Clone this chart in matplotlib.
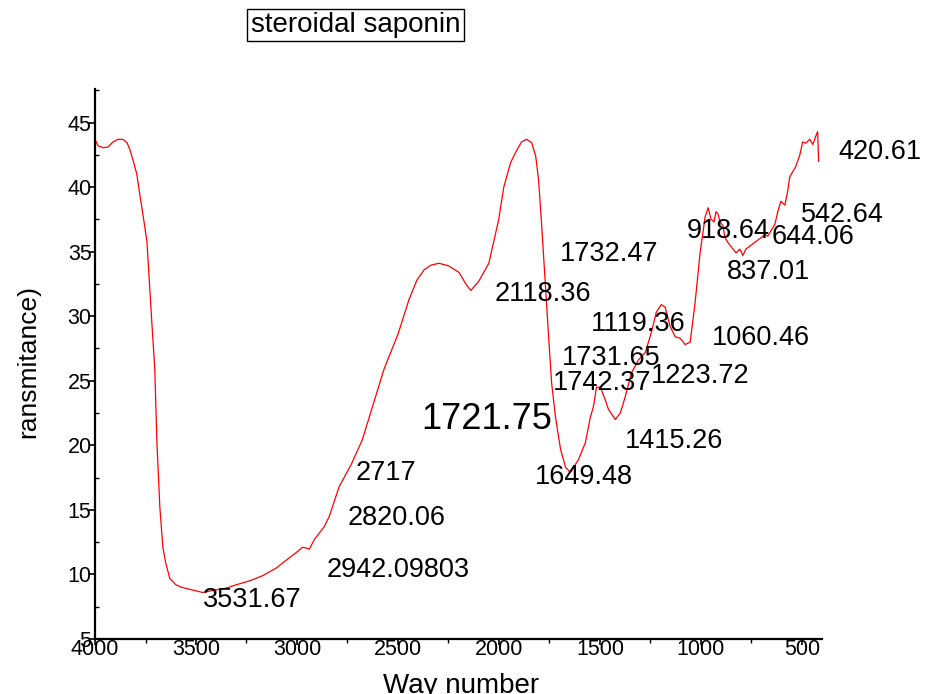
import numpy as np
import matplotlib
matplotlib.use('Agg')
from matplotlib import pyplot as plt
from matplotlib.ticker import MultipleLocator

plt.rcParams['font.family'] = ['Liberation Sans', 'DejaVu Sans']

# spectrum (wavenumber, transmittance)
wavenumber = [4000, 3985, 3960, 3936, 3911, 3886, 3862, 3842, 3827, 3812,
              3793, 3778, 3763, 3743, 3733, 3719, 3704, 3694, 3679, 3664,
              3650, 3630, 3600, 3571, 3520, 3467, 3418, 3348, 3300, 3235,
              3170, 3102, 3037, 3003, 2973, 2955, 2939, 2914, 2865, 2840,
              2791, 2732, 2677, 2620, 2569, 2500, 2445, 2406, 2370, 2337,
              2297, 2250, 2198, 2160, 2139, 2100, 2050, 2001, 1976, 1942,
              1917, 1888, 1863, 1838, 1818, 1804, 1789, 1769, 1754, 1739,
              1720, 1695, 1670, 1646, 1606, 1572, 1547, 1532, 1517, 1498,
              1473, 1458, 1424, 1399, 1374, 1344, 1310, 1275, 1246, 1221,
              1196, 1177, 1152, 1127, 1103, 1078, 1053, 1029, 1004, 979,
              964, 950, 935, 925, 915, 905, 891, 881, 866, 841,
              826, 807, 792, 777, 752, 718, 683, 668, 654, 634,
              619, 604, 584, 570, 560, 545, 530, 510, 496, 481,
              461, 446, 432, 422, 417]
transmittance = [43.7, 43.2, 43.05, 43.1, 43.5, 43.7, 43.7, 43.45, 42.9, 42.1,
                 41.0, 39.4, 37.9, 35.8, 33.2, 29.6, 25.9, 20.4, 15.2, 12.1,
                 10.9, 9.7, 9.2, 9.0, 8.8, 8.6, 8.75, 8.95, 9.2, 9.5,
                 9.9, 10.5, 11.3, 11.7, 12.1, 12.05, 11.95, 12.7, 13.7, 14.5,
                 16.8, 18.5, 20.4, 23.3, 25.9, 28.6, 31.3, 32.8, 33.6, 33.95,
                 34.1, 33.9, 33.4, 32.4, 32.0, 32.7, 34.1, 37.5, 40.0, 41.9,
                 42.7, 43.5, 43.7, 43.45, 42.4, 40.6, 37.2, 32.1, 28.4, 24.8,
                 22.2, 19.7, 18.3, 17.9, 18.9, 20.2, 22.2, 23.0, 24.5, 24.5,
                 23.5, 22.8, 22.0, 22.5, 23.8, 25.6, 26.6, 27.2, 28.7, 30.3,
                 30.9, 30.7, 29.2, 28.4, 28.3, 27.8, 28.0, 31.0, 34.9, 37.7,
                 38.4, 37.5, 37.3, 38.1, 37.9, 37.3, 37.0, 36.1, 35.7, 35.2,
                 34.9, 35.2, 34.7, 35.2, 35.5, 35.9, 36.3, 36.2, 36.6, 37.1,
                 38.1, 38.9, 38.6, 39.7, 40.8, 41.2, 41.6, 42.5, 43.5, 43.4,
                 43.7, 43.3, 43.9, 44.3, 42.0]

# peak labels as written on the chart
peak_labels = ['420.61', '542.64', '644.06', '918.64', '837.01', '1732.47',
               '2118.36', '1119.36', '1060.46', '1731.65', '1742.37', '1223.72',
               '1721.75', '1415.26', '1649.48', '2717', '2820.06', '2942.09803',
               '3531.67']
# where each label sits (data coords, centre of text)
label_x = [111, 298, 446, 866, 663, 1453, 1784, 1310, 703, 1443, 1488, 1004,
           2060, 1132, 1577, 2559, 2509, 2500, 3220]
label_y = [42.75, 37.8, 36.1, 36.6, 33.45, 34.8, 31.7, 29.4, 28.3, 26.8, 24.8,
           25.4, 22.0, 20.35, 17.56, 17.87, 14.38, 10.35, 8.02]

fig = plt.figure(figsize=(9.27, 6.94), dpi=100)
ax = fig.add_axes([0.1025, 0.0793, 0.7843, 0.7925])

ax.plot(wavenumber, transmittance, color='#ff0000', lw=0.9)
ax.set_xlim(4000, 400)
ax.set_ylim(5, 47.6)

for s in ['top', 'right']:
    ax.spines[s].set_visible(False)
for s in ['left', 'bottom']:
    ax.spines[s].set_linewidth(1.6)

ax.xaxis.set_major_locator(MultipleLocator(500))
ax.xaxis.set_minor_locator(MultipleLocator(250))
ax.yaxis.set_major_locator(MultipleLocator(5))
ax.yaxis.set_minor_locator(MultipleLocator(2.5))
ax.tick_params(axis='x', which='major', direction='out', length=4, width=1.2,
               pad=-4, labelsize=15.5)
ax.tick_params(axis='x', which='minor', direction='out', length=3, width=1.0)
ax.tick_params(axis='y', which='major', direction='out', length=4, width=1.2,
               pad=-1.5, labelsize=15.5)
ax.tick_params(axis='y', which='minor', direction='in', length=3, width=1.0)

for txt, x, y in zip(peak_labels, label_x, label_y):
    fs = 26 if txt == '1721.75' else 19.5
    ax.text(x, y, txt, fontsize=fs, ha='center', va='center', clip_on=False)

ax.set_xlabel('Way number', fontsize=20, va='baseline')
ax.xaxis.set_label_coords(0.503, -0.098)
ax.set_ylabel('ransmitance)', fontsize=19, va='center')
ax.yaxis.set_label_coords(-0.092, 0.504)

fig.text(355.5 / 927, 1 - 25 / 694, 'steroidal saponin', fontsize=20,
         ha='center', va='center',
         bbox=dict(boxstyle='square,pad=0.12', fc='white', ec='black', lw=1))

fig.savefig('out.png', dpi=100)
plt.close(fig)
